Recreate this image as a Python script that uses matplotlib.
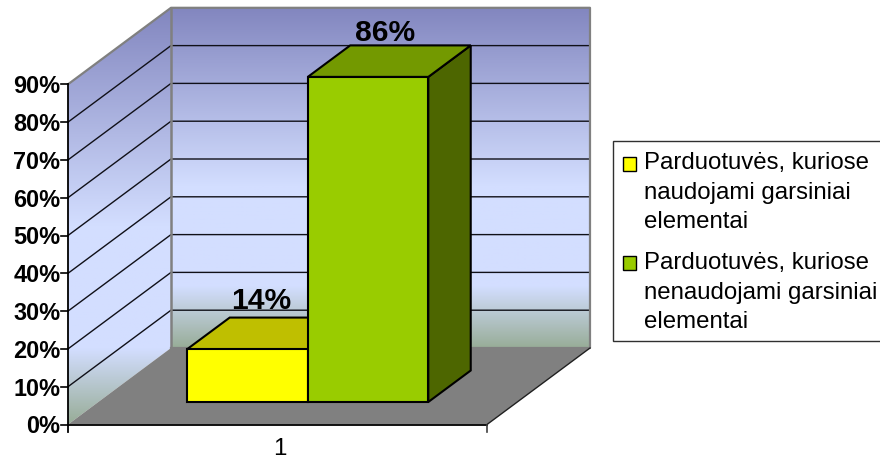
import matplotlib
matplotlib.use("Agg")
import matplotlib.pyplot as plt
import numpy as np
from matplotlib.colors import LinearSegmentedColormap
from matplotlib.patches import Polygon, Rectangle

plt.rcParams['font.family'] = ['Liberation Sans', 'DejaVu Sans']

#======= Data =======

category = ['1']
series_names = ['Parduotuvės, kuriose\nnaudojami garsiniai\nelementai',
                'Parduotuvės, kuriose\nnenaudojami garsiniai\nelementai']
values = [14, 86]
value_labels = ['14%', '86%']
ticks = [0, 10, 20, 30, 40, 50, 60, 70, 80, 90]
tick_labels = ['0%', '10%', '20%', '30%', '40%', '50%', '60%', '70%', '80%', '90%']

#======= Colours =======

front_colors = ['#FFFF00', '#99CC00']
top_colors = ['#BFBF00', '#739900']
side_colors = ['#7F7F00', '#4D6600']
wall_cmap = LinearSegmentedColormap.from_list('wall', [
    (0.0, '#8286BF'), (0.525, '#D3DEFF'), (0.82, '#D3DEFF'), (1.0, '#98AD98')])

#======= Projection =======

x0, y0 = 68, 425.5         # front corner of the floor
width = 419                # floor width
px_per_pct = 3.78
depth_dx, depth_dy = 103, 76.5
vmax = ticks[-1]
gap = 0.2124               # space left of the first bar, part of the width
bar_w = 0.2876
depth_a, depth_b = 0.294, 0.706


def pt(x, v, d):
    '''x in 0-1 across the floor, v in percent, d in 0-1 towards the back wall'''
    return (x0 + x * width + d * depth_dx, y0 - v * px_per_pct - d * depth_dy)


def wall(ax, corners):
    poly = Polygon(corners, closed=True, fc='none', ec='none', zorder=1)
    ax.add_patch(poly)
    ys = [c[1] for c in corners]
    xs = [c[0] for c in corners]
    grad = np.linspace(0, 1, 256).reshape(-1, 1)
    im = ax.imshow(grad, cmap=wall_cmap, aspect='auto', zorder=1,
                   extent=(min(xs), max(xs), max(ys), min(ys)))
    im.set_clip_path(poly)


fig = plt.figure(figsize=(8.8, 4.6), dpi=100)
ax = fig.add_axes([0, 0, 1, 1])

#======= Walls =======

wall(ax, [pt(0, 0, 0), pt(0, vmax, 0), pt(0, vmax, 1), pt(0, 0, 1)])
wall(ax, [pt(0, 0, 1), pt(0, vmax, 1), pt(1, vmax, 1), pt(1, 0, 1)])

for t in ticks[1:-1]:
    a, b, c = pt(0, t, 0), pt(0, t, 1), pt(1, t, 1)
    ax.plot([a[0], b[0], c[0]], [a[1], b[1], c[1]], color='#101018', lw=1.0, zorder=2)

ax.add_patch(Polygon([pt(0, 0, 0), pt(1, 0, 0), pt(1, 0, 1), pt(0, 0, 1)],
                     closed=True, fc='#808080', ec='none', zorder=2))

# grey outline of the walls
outline = [pt(0, 0, 0), pt(0, vmax, 0), pt(0, vmax, 1), pt(1, vmax, 1), pt(1, 0, 1), pt(0, 0, 1)]
ax.plot(*zip(*outline[1:]), color='#808080', lw=1.6, zorder=3)
ax.plot(*zip(pt(0, 0, 1), pt(0, vmax, 1)), color='#808080', lw=1.8, zorder=3)

#======= Bars =======

for i, v in enumerate(values):
    xa = gap + i * bar_w
    xb = xa + bar_w
    style = dict(ec='black', lw=1.5, closed=True, joinstyle='miter')
    ax.add_patch(Polygon([pt(xb, 0, depth_a), pt(xb, 0, depth_b), pt(xb, v, depth_b), pt(xb, v, depth_a)],
                         fc=side_colors[i], zorder=4 + i, **style))
    ax.add_patch(Polygon([pt(xa, v, depth_a), pt(xb, v, depth_a), pt(xb, v, depth_b), pt(xa, v, depth_b)],
                         fc=top_colors[i], zorder=4 + i, **style))
    ax.add_patch(Polygon([pt(xa, 0, depth_a), pt(xb, 0, depth_a), pt(xb, v, depth_a), pt(xa, v, depth_a)],
                         fc=front_colors[i], zorder=4 + i, **style))

label_shift = [(-28.5, -9.5), (-25, -5)]
for i, v in enumerate(values):
    xa = gap + i * bar_w
    lx, ly = pt(xa + bar_w / 2, v, depth_b)
    ax.text(lx + label_shift[i][0], ly + label_shift[i][1], value_labels[i],
            fontsize=21.6, fontweight='bold', ha='center', va='baseline', color='black', zorder=8)

#======= Axes =======

ax.plot(*zip(pt(0, 0, 0), pt(1, 0, 0)), color='black', lw=1.3, zorder=6)
ax.plot(*zip(pt(1, 0, 0), pt(1, 0, 1)), color='#202020', lw=1.0, zorder=3)
ax.plot([x0, x0], [pt(0, vmax, 0)[1], y0 + 7], color='black', lw=1.3, zorder=6)
ax.plot([x0 + width, x0 + width], [y0, y0 + 7], color='#404040', lw=1.2, zorder=6)
for t, lab in zip(ticks, tick_labels):
    _, ty = pt(0, t, 0)
    ax.plot([x0 - 7, x0], [ty, ty], color='black', lw=1.2, zorder=6)
    ax.text(x0 - 7.5, ty - 1, lab, fontsize=16.9, fontweight='bold', ha='right',
            va='center_baseline', color='black')

ax.text(x0 + width * 0.5 + 2, 455.5, category[0], fontsize=17.3, ha='center', va='baseline', color='black')

#======= Legend =======

ax.add_patch(Rectangle((612.5, 141.5), 280, 200.5, fc='white', ec='#303030', lw=1.0, zorder=6))
legend_top = [157.7, 257]
legend_base = [169, 269]
line_step = 29.6
for i, name in enumerate(series_names):
    ax.add_patch(Rectangle((622.5, legend_top[i]), 13.5, 14, fc=front_colors[i], ec='black', lw=1.0, zorder=7))
    for j, line in enumerate(name.split('\n')):
        ax.text(644, legend_base[i] + j * line_step, line, fontsize=17.3, ha='left',
                va='baseline', color='black', zorder=8)

ax.set_xlim(0, 880)
ax.set_ylim(460, 0)
ax.axis('off')

fig.savefig('out.png', dpi=100, facecolor='white')
